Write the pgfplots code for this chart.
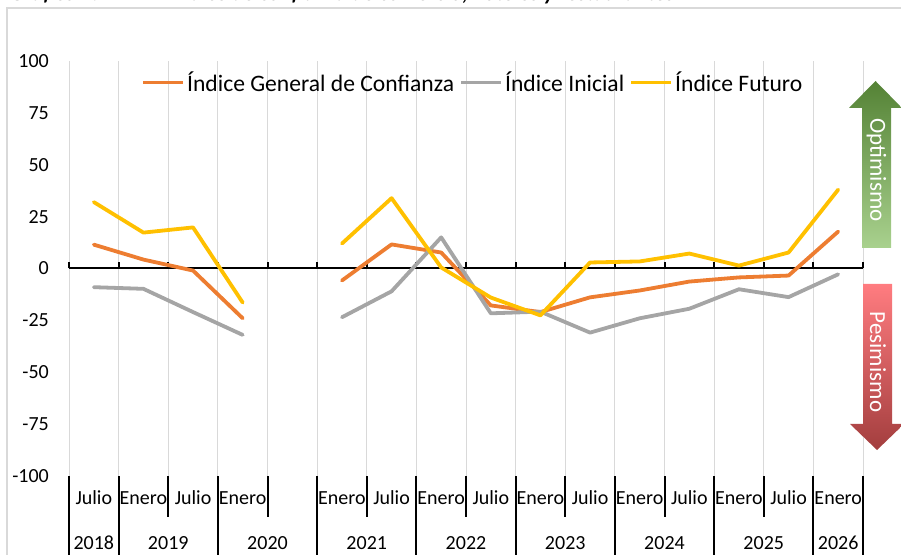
\documentclass[border=0pt]{standalone}
\usepackage{fontspec}
\setmainfont{Carlito}
\usepackage{pgfplots}
\usepackage{pgfplotstable}
\pgfplotsset{compat=1.18}
\definecolor{cOrange}{HTML}{ED7D31}
\definecolor{cGray}{HTML}{A5A5A5}
\definecolor{cYellow}{HTML}{FFC000}
\definecolor{cGrid}{HTML}{D9D9D9}
\definecolor{gTop}{HTML}{548235}
\definecolor{gBot}{HTML}{A9D18E}
\definecolor{rTop}{HTML}{FF7C80}
\definecolor{rBot}{HTML}{A33E3E}

\pgfplotstableread{
x    gen    ini    fut
0.5  11.5   -9.0   32.0
1.5  4.3    -9.8   17.3
2.5  -1.0   -21.0  19.8
3.5  -24.0  -32.0  -16.4
4.5  nan    nan    nan
5.5  -5.8   -23.5  12.0
6.5  11.6   -11.0  33.9
7.5  7.7    15.0   0.5
8.5  -17.8  -21.6  -14.0
9.5  -21.0  -20.8  -22.6
10.5 -13.9  -30.9  2.9
11.5 -10.6  -24.0  3.4
12.5 -6.3   -19.4  7.2
13.5 -4.3   -10.0  1.4
14.5 -3.4   -13.8  7.7
15.5 17.8   -2.8   38.0
}\datatable

\begin{document}
\begin{tikzpicture}[x=1pt,y=1pt]
\useasboundingbox (0,0) rectangle (901,554);
\clip (0,0) rectangle (901,554);
% outer chart frame
\draw[color=cGrid, line width=1.2pt] (7,-5) -- (7,546) -- (910,546);
% title (cut off at the top, as in the reference)
\node[anchor=base west, inner sep=0pt, font=\fontsize{22}{26}\selectfont\bfseries\itshape] at (10,553) {Gráfico 1.};
\node[anchor=base west, inner sep=0pt, font=\fontsize{22}{26}\selectfont\bfseries\itshape] at (173,553) {Índice de confianza de comercio, hoteles y restaurantes};

\begin{axis}[
  at={(69pt,78pt)}, anchor=south west,
  width=794pt, height=415pt, scale only axis,
  xmin=0, xmax=16, ymin=-100, ymax=100,
  axis line style={draw=none},
  xtick={0,...,16}, xticklabels={},
  xmajorgrids,
  major grid style={cGrid, line width=1pt},
  ytick={-100,-75,...,100},
  major tick length=0pt,
  yticklabel style={font=\fontsize{20}{24}\selectfont, inner sep=0pt, xshift=-20pt},
  /pgf/number format/assume math mode=true,
  unbounded coords=jump,
  clip=false,
  legend columns=3,
  legend style={draw=none, fill=none, at={(0.5075,0.949)}, anchor=center,
    font=\fontsize{23.6}{28}\selectfont, inner sep=0pt, nodes={inner sep=0pt},
    /tikz/every odd column/.append style={column sep=2.5pt},
    /tikz/every even column/.append style={column sep=5.5pt}},
  legend image code/.code={\draw[#1, line width=3pt, line cap=butt] (0pt,0pt) -- (40pt,0pt);},
]
\draw[black, line width=2pt] (axis cs:0,0) -- (axis cs:16,0);
\pgfplotsinvokeforeach{0,...,16}{\draw[black, line width=2pt] (axis cs:#1,0) -- ++(0pt,6pt);}
\addplot[cOrange, line width=3.8pt, line cap=round, line join=round] table[x=x,y=gen]{\datatable};
\addlegendentry{Índice General de Confianza}
\addplot[cGray, line width=3.8pt, line cap=round, line join=round] table[x=x,y=ini]{\datatable};
\addlegendentry{Índice Inicial}
\addplot[cYellow, line width=3.8pt, line cap=round, line join=round] table[x=x,y=fut]{\datatable};
\addlegendentry{Índice Futuro}
\end{axis}

% category labels (months)
\foreach \i/\m in {0/Julio,1/Enero,2/Julio,3/Enero,5/Enero,6/Julio,7/Enero,8/Julio,9/Enero,10/Julio,11/Enero,12/Julio,13/Enero,14/Julio,15/Enero}
  \node[anchor=base, inner sep=0pt, font=\fontsize{20}{24}\selectfont] at ({69+49.625*(\i+0.5)},50) {\m};
% years
\foreach \c/\y in {0.5/2018,2/2019,4/2020,6/2021,8/2022,10/2023,12/2024,14/2025,15.5/2026}
  \node[anchor=base, inner sep=0pt, font=\fontsize{20}{24}\selectfont] at ({69+49.625*\c},5) {\y};
% separator lines
\foreach \k in {0,1,3,5,7,9,11,13,15,16}
  \draw[black, line width=2pt] ({69+49.625*\k},78) -- ({69+49.625*\k},-2);
\foreach \k in {2,4,6,8,10,12,14}
  \draw[black, line width=2pt] ({69+49.625*\k},78) -- ({69+49.625*\k},37);

% optimism arrow
\shade[top color=gTop, bottom color=gBot] (875.5,473) -- (902,446) -- (891,446) -- (891,306) -- (862,306) -- (862,446) -- (849,446) -- cycle;
\node[rotate=-90, white, inner sep=0pt, font=\fontsize{23}{27}\selectfont] at (876.5,384) {Optimismo};
% pessimism arrow
\shade[top color=rTop, bottom color=rBot] (863,270) -- (892,270) -- (892,130) -- (904,130) -- (877,104) -- (850,130) -- (863,130) -- cycle;
\node[rotate=-90, white, inner sep=0pt, font=\fontsize{23}{27}\selectfont] at (878,192) {Pesimismo};
\end{tikzpicture}
\end{document}
